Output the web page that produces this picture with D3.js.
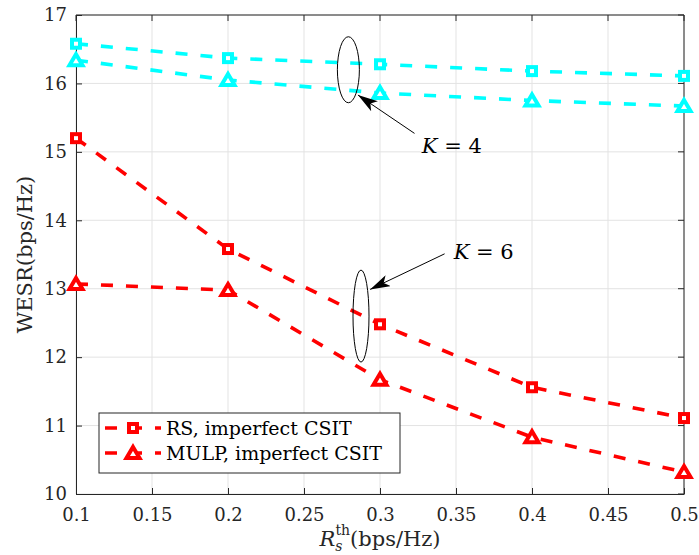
<!DOCTYPE html>
<html lang="en">
<head>
<meta charset="UTF-8">
<title>WESR vs R_s^th</title>
<script src="https://d3js.org/d3.v7.min.js"></script>
<style>
    body { margin: 0; background: #fff; }
    text { font-family: "DejaVu Serif", "Liberation Serif", serif; }
</style>
</head>
<body>
<div id="chart"></div>
<script>
    // data
    const rth = [0.1, 0.2, 0.3, 0.4, 0.5];
    const rsK4 = [16.58, 16.37, 16.28, 16.18, 16.11];
    const mulpK4 = [16.34, 16.05, 15.86, 15.75, 15.67];
    const rsK6 = [15.20, 13.58, 12.48, 11.56, 11.11];
    const mulpK6 = [13.07, 12.98, 11.67, 10.83, 10.32];
    const xTicks = [0.1, 0.15, 0.2, 0.25, 0.3, 0.35, 0.4, 0.45, 0.5];
    const yTicks = [10, 11, 12, 13, 14, 15, 16, 17];
    const legendNames = ["RS, imperfect CSIT", "MULP, imperfect CSIT"];

    const width = 699, height = 555;
    const margin = { top: 15, right: 15, bottom: 61, left: 76 };
    const w = width - margin.left - margin.right;
    const h = height - margin.top - margin.bottom;
    const fontFam = '"DejaVu Serif", serif';

    const svg = d3.select('#chart').append('svg')
        .attr('width', width)
        .attr('height', height);

    const g = svg.append('g')
        .attr('transform', 'translate(' + margin.left + ',' + margin.top + ')');

    const x = d3.scaleLinear().domain([0.1, 0.5]).range([0, w]);
    const y = d3.scaleLinear().domain([10, 17]).range([h, 0]);

    // grid
    g.append('g').selectAll('line').data(xTicks).enter().append('line')
        .attr('x1', d => x(d)).attr('x2', d => x(d))
        .attr('y1', 0).attr('y2', h)
        .attr('stroke', '#e3e3e3').attr('stroke-width', 1);
    g.append('g').selectAll('line').data(yTicks).enter().append('line')
        .attr('y1', d => y(d)).attr('y2', d => y(d))
        .attr('x1', 0).attr('x2', w)
        .attr('stroke', '#e3e3e3').attr('stroke-width', 1);

    // axes
    const xAxis = g.append('g')
        .attr('transform', 'translate(0,' + h + ')')
        .call(d3.axisBottom(x).tickValues(xTicks).tickSizeInner(-6).tickSizeOuter(0).tickPadding(14)
            .tickFormat(d => String(+d.toFixed(2))));
    const yAxis = g.append('g')
        .call(d3.axisLeft(y).tickValues(yTicks).tickSizeInner(-6).tickSizeOuter(0).tickPadding(9)
            .tickFormat(d3.format('d')));
    [xAxis, yAxis].forEach(a => {
        a.attr('font-family', null);
        a.select('.domain').attr('stroke', '#262626');
        a.selectAll('.tick line').attr('stroke', '#262626');
        a.selectAll('.tick text').attr('fill', '#262626')
            .style('font-size', '18px')
            .style('font-family', fontFam);
    });
    // top and right box edges
    g.append('line').attr('x1', 0).attr('x2', w).attr('y1', 0).attr('y2', 0)
        .attr('stroke', '#262626');
    g.append('line').attr('x1', w).attr('x2', w).attr('y1', 0).attr('y2', h)
        .attr('stroke', '#262626');
    g.append('g').selectAll('line').data(xTicks).enter().append('line')
        .attr('x1', d => x(d)).attr('x2', d => x(d)).attr('y1', 0).attr('y2', 6)
        .attr('stroke', '#262626');
    g.append('g').selectAll('line').data(yTicks).enter().append('line')
        .attr('y1', d => y(d)).attr('y2', d => y(d)).attr('x1', w).attr('x2', w - 6)
        .attr('stroke', '#262626');

    const line = d3.line().x((d, i) => x(rth[i])).y(d => y(d));

    const series = [
        { vals: rsK4, color: '#00ffff', marker: 'square' },
        { vals: mulpK4, color: '#00ffff', marker: 'triangle' },
        { vals: rsK6, color: '#ff0000', marker: 'square' },
        { vals: mulpK6, color: '#ff0000', marker: 'triangle' }
    ];

    function drawMarker(sel, type, color) {
        if (type === 'square') {
            sel.append('rect')
                .attr('x', -4).attr('y', -4).attr('width', 8).attr('height', 8)
                .attr('fill', 'white').attr('stroke', color).attr('stroke-width', 4);
        } else {
            sel.append('path')
                .attr('d', 'M0,-6 L6.5,5 L-6.5,5 Z')
                .attr('fill', 'white').attr('stroke', color).attr('stroke-width', 4)
                .attr('stroke-linejoin', 'miter');
        }
    }

    series.forEach(s => {
        g.append('path')
            .datum(s.vals)
            .attr('d', line)
            .attr('fill', 'none')
            .attr('stroke', s.color)
            .attr('stroke-width', 3.6)
            .attr('stroke-dasharray', '12,13');
        g.append('g').selectAll('g').data(s.vals).enter().append('g')
            .attr('transform', (d, i) => 'translate(' + x(rth[i]) + ',' + y(d) + ')')
            .each(function () { drawMarker(d3.select(this), s.marker, s.color); });
    });

    // annotations
    const defs = svg.append('defs');
    defs.append('marker')
        .attr('id', 'arrow')
        .attr('viewBox', '0 0 20 12')
        .attr('refX', 20).attr('refY', 6)
        .attr('markerWidth', 20).attr('markerHeight', 12)
        .attr('markerUnits', 'userSpaceOnUse')
        .attr('orient', 'auto')
        .append('path')
        .attr('d', 'M0,0 L20,6 L0,12 L5,6 Z')
        .attr('fill', 'black');

    // K = 4
    g.append('ellipse')
        .attr('cx', x(0.2792)).attr('cy', y(16.2))
        .attr('rx', 11).attr('ry', 33)
        .attr('fill', 'none').attr('stroke', 'black').attr('stroke-width', 1);
    g.append('line')
        .attr('x1', x(0.3227)).attr('y1', y(15.27))
        .attr('x2', x(0.2855)).attr('y2', y(15.83))
        .attr('stroke', 'black').attr('stroke-width', 1)
        .attr('marker-end', 'url(#arrow)');
    g.append('text')
        .attr('x', x(0.3275)).attr('y', y(14.98))
        .style('font-size', '21px')
        .html('<tspan font-style="italic">K</tspan> = 4');

    // K = 6
    g.append('ellipse')
        .attr('cx', x(0.2875)).attr('cy', y(12.6))
        .attr('rx', 8).attr('ry', 46)
        .attr('fill', 'none').attr('stroke', 'black').attr('stroke-width', 1);
    g.append('line')
        .attr('x1', x(0.3425)).attr('y1', y(13.51))
        .attr('x2', x(0.2935)).attr('y2', y(12.99))
        .attr('stroke', 'black').attr('stroke-width', 1)
        .attr('marker-end', 'url(#arrow)');
    g.append('text')
        .attr('x', x(0.3485)).attr('y', y(13.44))
        .style('font-size', '21px')
        .html('<tspan font-style="italic">K</tspan> = 6');

    // legend
    const lg = g.append('g').attr('transform', 'translate(23,398)');
    lg.append('rect')
        .attr('width', 301).attr('height', 60)
        .attr('fill', 'white').attr('stroke', '#262626').attr('stroke-width', 1);
    legendNames.forEach((name, i) => {
        const row = lg.append('g').attr('transform', 'translate(0,' + (15 + i * 25) + ')');
        row.append('line')
            .attr('x1', 6).attr('x2', 62)
            .attr('stroke', '#ff0000').attr('stroke-width', 3.6)
            .attr('stroke-dasharray', '12,13');
        const m = row.append('g').attr('transform', 'translate(34,0)');
        drawMarker(m, i === 0 ? 'square' : 'triangle', '#ff0000');
        row.append('text')
            .attr('x', 67).attr('y', 7)
            .style('font-size', '19px')
            .attr('fill', '#000')
            .text(name);
    });

    // axis labels
    svg.append('text')
        .attr('transform', 'translate(32,' + (margin.top + h / 2) + ') rotate(-90)')
        .attr('text-anchor', 'middle')
        .style('font-size', '21px')
        .attr('fill', '#262626')
        .text('WESR(bps/Hz)');

    const xl = svg.append('text')
        .attr('x', margin.left + w / 2)
        .attr('y', 546)
        .attr('text-anchor', 'middle')
        .style('font-size', '21px')
        .attr('fill', '#262626');
    xl.append('tspan').attr('font-style', 'italic').text('R');
    xl.append('tspan').attr('font-style', 'italic').attr('dy', 5).style('font-size', '14px').text('s');
    xl.append('tspan').attr('dx', -7).attr('dy', -16).style('font-size', '14px').text('th');
    xl.append('tspan').attr('dy', 11).text('(bps/Hz)');
</script>
</body>
</html>
